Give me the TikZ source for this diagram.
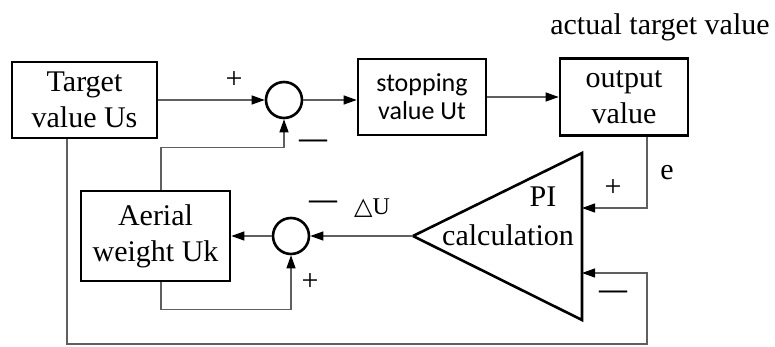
\documentclass[tikz,border=0pt]{standalone}
\usepackage{fontspec}
\setmainfont{Liberation Serif}
\newfontfamily\boxsans{Carlito}
\newfontfamily\symfont{DejaVu Sans}
\usetikzlibrary{arrows.meta,positioning,calc}
\definecolor{linegray}{RGB}{95,95,95}

\begin{document}
\begin{tikzpicture}[x=0.5pt,y=-0.5pt,
block/.style={draw, line width=1.3pt, align=center, inner sep=0pt,
font=\fontsize{15}{18}\selectfont},
sumnode/.style={draw, circle, line width=1.3pt, minimum size=18pt, inner sep=0pt},
link/.style={draw=linegray, line width=0.6pt},
arrow/.style={link, -{Triangle[length=6.5pt, width=4.5pt, color=black]}},
sign/.style={inner sep=0pt, font=\fontsize{15}{18}\selectfont},
minus/.style={sign, font=\fontsize{14}{18}\selectfont\bfseries}
]
\useasboundingbox (0,0) rectangle (775,347);

% blocks
\node[block, minimum width=72.5pt, minimum height=38pt] (target) at (84.5,100) {Target\\value Us};
\node[sumnode] (sum1) at (284,100) {};
\node[block, minimum width=64pt, minimum height=38pt,
font=\boxsans\fontsize{13}{14}\selectfont] (stopping) at (422,97) {stopping\\value Ut};
\node[block, minimum width=64pt, minimum height=38.5pt] (output) at (624,97) {output\\value};
\node[block, minimum width=74.5pt, minimum height=45pt] (aerial) at (155.5,236) {Aerial\\weight Uk};
\node[sumnode] (sum2) at (291,236) {};

% PI triangle
\coordinate (pi top) at (582,153);
\coordinate (pi bottom) at (582,320);
\coordinate (pi tip) at (413,236);
\coordinate (pi in1) at (582,208);
\coordinate (pi in2) at (582,273);
\draw[line width=1.3pt] (pi top) -- (pi bottom) -- (pi tip) -- cycle;
\node[sign] (pi label) at (543,197) {PI};
\node[sign] (calc label) at (508,235) {calculation};

% connectors
\draw[arrow] (target.east |- sum1.west) -- (sum1.west);
\draw[arrow] (sum1.east) -- (sum1.east -| stopping.west);
\draw[arrow] (stopping.east) -- (output.west);
\draw[arrow] ([xshift=11.5pt]output.south) |- (pi in1);
\draw[arrow] ([xshift=-8.75pt]target.south) |- (647,344) |- (pi in2);
\draw[arrow] (pi tip) -- (sum2.east);
\draw[arrow] (sum2.west) -- (aerial.east);
\draw[arrow] ([xshift=2.75pt]aerial.south) -- ++(0,27) -| (sum2.south);
\draw[arrow] ([xshift=2.75pt]aerial.north) -- ++(0,-42) -| (sum1.south);

% signs and labels
\node[sign] (plus1) at (234,80) {+};
\node[minus] (minus1) at (313,144) {—};
\node[minus] (minus2) at (323,205) {—};
\node[inner sep=0pt, font=\fontsize{12}{14}\selectfont] (deltau) at (372,208) {{\symfont △}U};
\node[sign] (plus2) at (310,282) {+};
\node[sign] (e label) at (667,173) {e};
\node[sign] (plus3) at (613,188) {+};
\node[minus] (minus3) at (613,295) {—};
\node[sign] (actual) at (660,27) {actual target value};
\end{tikzpicture}
\end{document}
